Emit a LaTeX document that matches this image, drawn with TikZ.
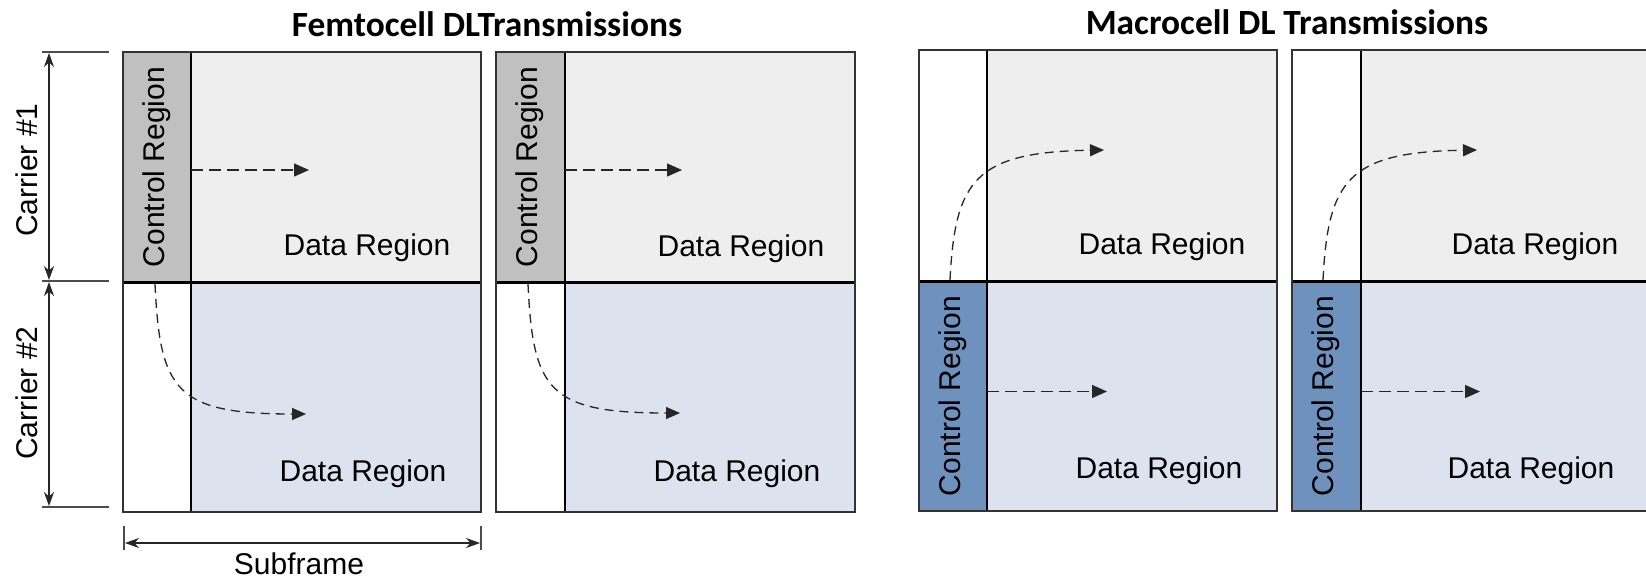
\documentclass[tikz,border=0pt]{standalone}
\usepackage{fontspec}
\setmainfont{Liberation Sans}
\newfontfamily\titlefont{Carlito}
\usetikzlibrary{arrows.meta}
\definecolor{ctrlgray}{HTML}{C0C0C0}
\definecolor{datagray}{HTML}{EEEEEE}
\definecolor{datablue}{HTML}{DCE3EE}
\definecolor{ctrlblue}{HTML}{6F91BE}
\definecolor{edge}{HTML}{333333}
\tikzset{
  cell/.style={inner sep=0pt, outer sep=0pt, anchor=north west, draw=none},
  lbl/.style={inner sep=0pt, font=\fontsize{30}{34}\selectfont},
  vlbl/.style={lbl, rotate=90},
  ttl/.style={inner sep=0pt, font=\titlefont\bfseries\fontsize{35.4}{40}\selectfont},
  outline/.style={draw=edge, line width=1.6pt},
  divider/.style={draw=black, line width=1.4pt},
  midline/.style={draw=black, line width=3pt},
  flow/.style={draw=black!85, line width=1.3pt, dash pattern=on 12pt off 6pt, -{Triangle[length=15pt,width=13pt]}},
  cflow/.style={flow, dash pattern=on 9pt off 6pt, -{Triangle[length=14pt,width=12pt]}},
  dim/.style={draw=black!85, line width=1.3pt, {Stealth[length=14pt,width=10pt]}-{Stealth[length=14pt,width=10pt]}},
  tick/.style={draw=black!70, line width=1.3pt},
}
\begin{document}
\begin{tikzpicture}[x=1pt,y=-1pt]
\useasboundingbox (0,0) rectangle (1646,579);
\fill[white] (0,0) rectangle (1646,579);

% ---------- Femtocell subframe 1 ----------
\node[cell, fill=ctrlgray, minimum width=68pt, minimum height=230pt] (f1c1) at (123,52) {};
\node[cell, fill=datagray, minimum width=290pt, minimum height=230pt] (f1d1) at (191,52) {};
\node[cell, fill=white, minimum width=68pt, minimum height=230pt] (f1c2) at (123,282) {};
\node[cell, fill=datablue, minimum width=290pt, minimum height=230pt] (f1d2) at (191,282) {};
\draw[divider] (f1d1.north west) -- (f1d2.south west);
\draw[midline] (f1c2.north west) -- (f1d2.north east);
\draw[outline] (f1c1.north west) rectangle (f1d2.south east);

% ---------- Femtocell subframe 2 ----------
\node[cell, fill=ctrlgray, minimum width=69pt, minimum height=230pt] (f2c1) at (496,52) {};
\node[cell, fill=datagray, minimum width=290pt, minimum height=230pt] (f2d1) at (565,52) {};
\node[cell, fill=white, minimum width=69pt, minimum height=230pt] (f2c2) at (496,282) {};
\node[cell, fill=datablue, minimum width=290pt, minimum height=230pt] (f2d2) at (565,282) {};
\draw[divider] (f2d1.north west) -- (f2d2.south west);
\draw[midline] (f2c2.north west) -- (f2d2.north east);
\draw[outline] (f2c1.north west) rectangle (f2d2.south east);

% ---------- Macrocell subframe 1 ----------
\node[cell, fill=white, minimum width=68pt, minimum height=231pt] (m1c1) at (919,50) {};
\node[cell, fill=datagray, minimum width=290pt, minimum height=231pt] (m1d1) at (987,50) {};
\node[cell, fill=ctrlblue, minimum width=68pt, minimum height=230pt] (m1c2) at (919,281) {};
\node[cell, fill=datablue, minimum width=290pt, minimum height=230pt] (m1d2) at (987,281) {};
\draw[divider] (m1d1.north west) -- (m1d2.south west);
\draw[midline] (m1c2.north west) -- (m1d2.north east);
\draw[outline] (m1c1.north west) rectangle (m1d2.south east);

% ---------- Macrocell subframe 2 ----------
\node[cell, fill=white, minimum width=69pt, minimum height=231pt] (m2c1) at (1292,50) {};
\node[cell, fill=datagray, minimum width=290pt, minimum height=231pt] (m2d1) at (1361,50) {};
\node[cell, fill=ctrlblue, minimum width=69pt, minimum height=230pt] (m2c2) at (1292,281) {};
\node[cell, fill=datablue, minimum width=290pt, minimum height=230pt] (m2d2) at (1361,281) {};
\draw[divider] (m2d1.north west) -- (m2d2.south west);
\draw[midline] (m2c2.north west) -- (m2d2.north east);
\draw[outline] (m2c1.north west) rectangle (m2d2.south east);

% ---------- Labels ----------
\node[ttl] (tf) at (487,24) {Femtocell DLTransmissions};
\node[ttl] (tm) at (1287,22) {Macrocell DL Transmissions};

\node[vlbl] (f1ct) at (157,167) {Control Region};
\node[vlbl] (f2ct) at (530,167) {Control Region};
\node[vlbl] (m1ct) at (953,396) {Control Region};
\node[vlbl] (m2ct) at (1326,396) {Control Region};

\node[lbl] (f1dt1) at (367,248) {Data Region};
\node[lbl] (f1dt2) at (363,474) {Data Region};
\node[lbl] (f2dt1) at (741,249) {Data Region};
\node[lbl] (f2dt2) at (737,474) {Data Region};
\node[lbl] (m1dt1) at (1162,247) {Data Region};
\node[lbl] (m1dt2) at (1159,471) {Data Region};
\node[lbl] (m2dt1) at (1535,247) {Data Region};
\node[lbl] (m2dt2) at (1531,471) {Data Region};

% ---------- Flow arrows ----------
\coordinate (f1a) at (191,170); \coordinate (f1b) at (309,170);
\draw[flow] (f1a) -- (f1b);
\coordinate (f2a) at (565,170); \coordinate (f2b) at (682,170);
\draw[flow] (f2a) -- (f2b);
\coordinate (f1s) at (155,284); \coordinate (f1e) at (306,414);
\draw[cflow] (f1s) .. controls (160,390) and (175,414) .. (f1e);
\coordinate (f2s) at (528,284); \coordinate (f2e) at (680,413);
\draw[cflow] (f2s) .. controls (533,390) and (548,413) .. (f2e);

\coordinate (m1a) at (987,391.5); \coordinate (m1b) at (1107,391.5);
\draw[flow] (m1a) -- (m1b);
\coordinate (m2a) at (1361,391.5); \coordinate (m2b) at (1480,391.5);
\draw[flow] (m2a) -- (m2b);
\coordinate (m1s) at (950,280); \coordinate (m1e) at (1104,150);
\draw[cflow] (m1s) .. controls (955,180) and (975,152) .. (m1e);
\coordinate (m2s) at (1323,280); \coordinate (m2e) at (1477,150);
\draw[cflow] (m2s) .. controls (1328,180) and (1348,152) .. (m2e);

% ---------- Dimension lines ----------
\coordinate (k1a) at (42,52);  \coordinate (k1b) at (109,52);
\coordinate (k2a) at (42,281); \coordinate (k2b) at (109,281);
\coordinate (k3a) at (42,507); \coordinate (k3b) at (109,507);
\draw[tick] (k1a) -- (k1b);
\draw[tick] (k2a) -- (k2b);
\draw[tick] (k3a) -- (k3b);
\coordinate (c1t) at (49,53); \coordinate (c1b) at (49,280);
\coordinate (c2t) at (49,282); \coordinate (c2b) at (49,506);
\draw[dim] (c1t) -- (c1b);
\draw[dim] (c2t) -- (c2b);
\node[vlbl] (car1) at (27,170) {Carrier \#1};
\node[vlbl] (car2) at (27,393) {Carrier \#2};

\coordinate (s1a) at (124,526); \coordinate (s1b) at (124,550);
\coordinate (s2a) at (481,526); \coordinate (s2b) at (481,550);
\draw[tick] (s1a) -- (s1b);
\draw[tick] (s2a) -- (s2b);
\coordinate (sl) at (125,543); \coordinate (sr) at (480,543);
\draw[dim] (sl) -- (sr);
\node[lbl] (sub) at (299,564) {Subframe};
\end{tikzpicture}
\end{document}
